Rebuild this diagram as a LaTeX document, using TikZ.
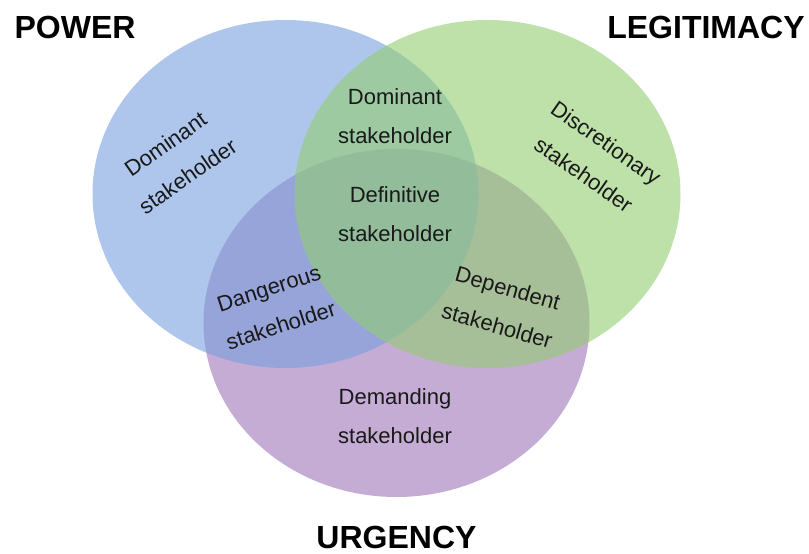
\documentclass[tikz,border=0pt]{standalone}
\usepackage{fontspec}
\setmainfont{Liberation Sans}
\usepackage{xcolor}
\usetikzlibrary{shapes.geometric}
\definecolor{powblue}{RGB}{120,160,222}
\definecolor{leggreen}{RGB}{147,205,113}
\definecolor{urgpurple}{RGB}{158,117,183}

\begin{document}
\begin{tikzpicture}[x=1pt,y=1pt,
  circ/.style={ellipse,minimum width=386pt,minimum height=348pt,inner sep=0pt,fill opacity=0.6},
  lbl/.style={align=center,font=\fontsize{22}{39}\selectfont,inner sep=0pt,text=black!90},
  head/.style={font=\fontsize{32}{36}\selectfont\bfseries,inner sep=0pt}]
\useasboundingbox (0,0) rectangle (809,554);

\node[circ,fill=urgpurple] (urgency) at (396.5,231) {};
\node[circ,fill=powblue] (power) at (285.5,360) {};
\node[circ,fill=leggreen] (legit) at (487.5,360) {};

\node[lbl] (domtop) at (395,438) {Dominant\\stakeholder};
\node[lbl] (definitive) at (395,339.5) {Definitive\\stakeholder};
\node[lbl] (demanding) at (395,137.5) {Demanding\\stakeholder};
\node[lbl,rotate=35] (domleft) at (176.5,394) {Dominant\\stakeholder};
\node[lbl,rotate=-35] (discret) at (595,395.5) {Discretionary\\stakeholder};
\node[lbl,rotate=18] (dangerous) at (275,247) {Dangerous\\stakeholder};
\node[lbl,rotate=-16] (dependent) at (502.5,247) {Dependent\\stakeholder};

\node[head] (powtitle) at (75,527) {POWER};
\node[head] (legtitle) at (706,527) {LEGITIMACY};
\node[head] (urgtitle) at (396.5,17) {URGENCY};
\end{tikzpicture}
\end{document}
